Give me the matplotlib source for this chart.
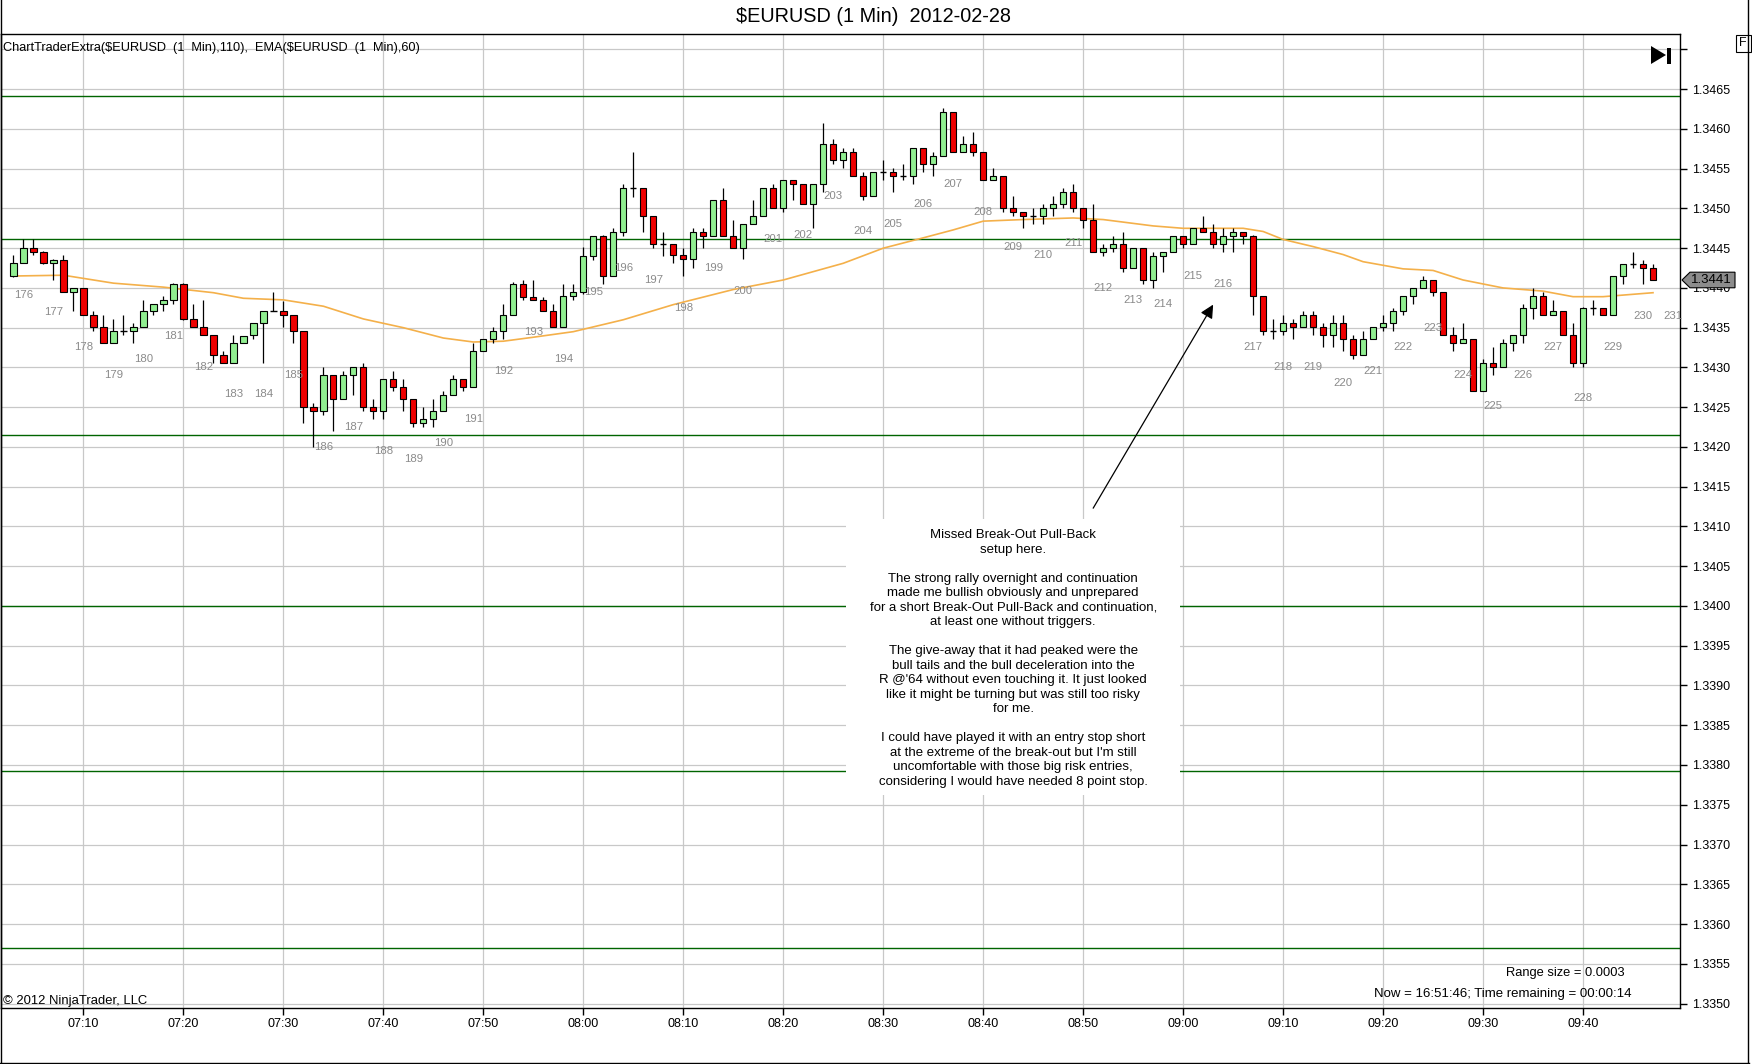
import matplotlib
matplotlib.use("Agg")
import matplotlib.pyplot as plt
import numpy as np
from matplotlib.patches import Rectangle, Polygon
from matplotlib.lines import Line2D
from matplotlib.transforms import Affine2D, blended_transform_factory

plt.rcParams["font.family"] = ["Liberation Sans", "DejaVu Sans"]

W, H = 1752, 1064

# ---- 1 min bars, 07:03 .. 09:47 ----
opens = [
    1.34415, 1.34431, 1.34450, 1.34445, 1.34431, 1.34435, 1.34395, 1.34400, 1.34366, 1.34351,
    1.34331, 1.34346, 1.34346, 1.34351, 1.34371, 1.34380, 1.34385, 1.34405, 1.34361, 1.34351,
    1.34341, 1.34316, 1.34306, 1.34331, 1.34341, 1.34356, 1.34371, 1.34371, 1.34366, 1.34346,
    1.34250, 1.34245, 1.34290, 1.34260, 1.34290, 1.34301, 1.34250, 1.34245, 1.34286, 1.34275,
    1.34260, 1.34230, 1.34235, 1.34245, 1.34265, 1.34286, 1.34275, 1.34321, 1.34336, 1.34346,
    1.34366, 1.34405, 1.34389, 1.34385, 1.34371, 1.34351, 1.34390, 1.34395, 1.34440, 1.34465,
    1.34415, 1.34470, 1.34526, 1.34526, 1.34490, 1.34455, 1.34455, 1.34441, 1.34436, 1.34470,
    1.34465, 1.34511, 1.34465, 1.34450, 1.34481, 1.34491, 1.34526, 1.34501, 1.34536, 1.34531,
    1.34506, 1.34531, 1.34581, 1.34561, 1.34571, 1.34541, 1.34516, 1.34546, 1.34546, 1.34541,
    1.34541, 1.34576, 1.34556, 1.34566, 1.34621, 1.34571, 1.34581, 1.34571, 1.34536, 1.34541,
    1.34501, 1.34496, 1.34491, 1.34491, 1.34501, 1.34506, 1.34521, 1.34501, 1.34486, 1.34445,
    1.34450, 1.34455, 1.34425, 1.34450, 1.34410, 1.34440, 1.34445, 1.34465, 1.34455, 1.34475,
    1.34470, 1.34455, 1.34465, 1.34470, 1.34465, 1.34390, 1.34346, 1.34346, 1.34356, 1.34351,
    1.34366, 1.34351, 1.34341, 1.34356, 1.34336, 1.34316, 1.34336, 1.34351, 1.34356, 1.34371,
    1.34390, 1.34400, 1.34410, 1.34395, 1.34341, 1.34331, 1.34336, 1.34270, 1.34306, 1.34301,
    1.34331, 1.34341, 1.34375, 1.34390, 1.34366, 1.34371, 1.34341, 1.34306, 1.34375, 1.34375,
    1.34366, 1.34415, 1.34430, 1.34430, 1.34425,
]
highs = [
    1.34441, 1.34461, 1.34461, 1.34446, 1.34436, 1.34441, 1.34400, 1.34400, 1.34371, 1.34366,
    1.34361, 1.34366, 1.34356, 1.34385, 1.34380, 1.34390, 1.34406, 1.34406, 1.34380, 1.34385,
    1.34341, 1.34321, 1.34341, 1.34340, 1.34356, 1.34371, 1.34395, 1.34384, 1.34366, 1.34346,
    1.34255, 1.34301, 1.34290, 1.34296, 1.34301, 1.34306, 1.34260, 1.34286, 1.34296, 1.34286,
    1.34260, 1.34250, 1.34260, 1.34270, 1.34290, 1.34286, 1.34331, 1.34336, 1.34351, 1.34380,
    1.34408, 1.34410, 1.34410, 1.34389, 1.34380, 1.34405, 1.34405, 1.34451, 1.34465, 1.34466,
    1.34475, 1.34531, 1.34571, 1.34526, 1.34490, 1.34470, 1.34455, 1.34450, 1.34475, 1.34475,
    1.34511, 1.34526, 1.34486, 1.34481, 1.34511, 1.34526, 1.34531, 1.34536, 1.34536, 1.34531,
    1.34531, 1.34607, 1.34587, 1.34576, 1.34576, 1.34546, 1.34546, 1.34561, 1.34551, 1.34556,
    1.34576, 1.34576, 1.34571, 1.34626, 1.34621, 1.34591, 1.34596, 1.34571, 1.34551, 1.34541,
    1.34516, 1.34496, 1.34501, 1.34506, 1.34516, 1.34526, 1.34531, 1.34501, 1.34506, 1.34455,
    1.34465, 1.34470, 1.34450, 1.34450, 1.34445, 1.34445, 1.34465, 1.34465, 1.34475, 1.34491,
    1.34481, 1.34475, 1.34475, 1.34470, 1.34466, 1.34390, 1.34361, 1.34366, 1.34361, 1.34371,
    1.34371, 1.34356, 1.34366, 1.34366, 1.34341, 1.34346, 1.34351, 1.34366, 1.34375, 1.34390,
    1.34400, 1.34415, 1.34410, 1.34395, 1.34351, 1.34356, 1.34336, 1.34311, 1.34326, 1.34336,
    1.34341, 1.34380, 1.34400, 1.34395, 1.34385, 1.34371, 1.34356, 1.34376, 1.34385, 1.34375,
    1.34415, 1.34430, 1.34445, 1.34435, 1.34430,
]
lows = [
    1.34414, 1.34431, 1.34441, 1.34430, 1.34410, 1.34395, 1.34371, 1.34366, 1.34346, 1.34331,
    1.34331, 1.34341, 1.34331, 1.34351, 1.34366, 1.34371, 1.34380, 1.34360, 1.34351, 1.34341,
    1.34306, 1.34306, 1.34306, 1.34331, 1.34336, 1.34306, 1.34371, 1.34351, 1.34331, 1.34230,
    1.34200, 1.34240, 1.34220, 1.34260, 1.34265, 1.34245, 1.34235, 1.34235, 1.34270, 1.34245,
    1.34225, 1.34225, 1.34225, 1.34245, 1.34265, 1.34270, 1.34275, 1.34321, 1.34331, 1.34336,
    1.34366, 1.34385, 1.34385, 1.34371, 1.34351, 1.34351, 1.34385, 1.34393, 1.34435, 1.34405,
    1.34415, 1.34465, 1.34515, 1.34470, 1.34450, 1.34440, 1.34431, 1.34415, 1.34425, 1.34450,
    1.34465, 1.34465, 1.34450, 1.34436, 1.34481, 1.34491, 1.34501, 1.34496, 1.34511, 1.34506,
    1.34475, 1.34521, 1.34556, 1.34551, 1.34541, 1.34511, 1.34516, 1.34536, 1.34521, 1.34536,
    1.34531, 1.34546, 1.34541, 1.34566, 1.34571, 1.34571, 1.34566, 1.34536, 1.34536, 1.34496,
    1.34491, 1.34475, 1.34481, 1.34481, 1.34491, 1.34501, 1.34496, 1.34475, 1.34445, 1.34440,
    1.34445, 1.34420, 1.34425, 1.34405, 1.34400, 1.34420, 1.34445, 1.34450, 1.34455, 1.34470,
    1.34450, 1.34445, 1.34445, 1.34455, 1.34366, 1.34341, 1.34336, 1.34341, 1.34336, 1.34351,
    1.34341, 1.34326, 1.34326, 1.34321, 1.34311, 1.34316, 1.34336, 1.34346, 1.34346, 1.34366,
    1.34380, 1.34400, 1.34390, 1.34341, 1.34321, 1.34331, 1.34270, 1.34270, 1.34291, 1.34301,
    1.34321, 1.34331, 1.34361, 1.34366, 1.34366, 1.34341, 1.34301, 1.34301, 1.34366, 1.34366,
    1.34366, 1.34405, 1.34425, 1.34405, 1.34410,
]
closes = [
    1.34431, 1.34450, 1.34445, 1.34431, 1.34435, 1.34395, 1.34400, 1.34366, 1.34351, 1.34331,
    1.34346, 1.34346, 1.34351, 1.34371, 1.34380, 1.34385, 1.34405, 1.34361, 1.34351, 1.34341,
    1.34316, 1.34306, 1.34331, 1.34340, 1.34356, 1.34371, 1.34371, 1.34366, 1.34346, 1.34250,
    1.34245, 1.34290, 1.34260, 1.34290, 1.34301, 1.34250, 1.34245, 1.34286, 1.34275, 1.34260,
    1.34230, 1.34235, 1.34245, 1.34265, 1.34286, 1.34275, 1.34321, 1.34336, 1.34346, 1.34366,
    1.34405, 1.34389, 1.34385, 1.34371, 1.34351, 1.34390, 1.34395, 1.34440, 1.34465, 1.34415,
    1.34470, 1.34526, 1.34526, 1.34490, 1.34455, 1.34455, 1.34441, 1.34436, 1.34470, 1.34465,
    1.34511, 1.34465, 1.34450, 1.34481, 1.34491, 1.34526, 1.34501, 1.34536, 1.34531, 1.34506,
    1.34531, 1.34581, 1.34561, 1.34571, 1.34541, 1.34516, 1.34546, 1.34546, 1.34541, 1.34541,
    1.34576, 1.34556, 1.34566, 1.34621, 1.34571, 1.34581, 1.34571, 1.34536, 1.34541, 1.34501,
    1.34496, 1.34491, 1.34491, 1.34501, 1.34506, 1.34521, 1.34501, 1.34486, 1.34445, 1.34450,
    1.34455, 1.34425, 1.34450, 1.34410, 1.34440, 1.34445, 1.34465, 1.34455, 1.34475, 1.34470,
    1.34455, 1.34465, 1.34470, 1.34465, 1.34390, 1.34346, 1.34346, 1.34356, 1.34351, 1.34366,
    1.34351, 1.34341, 1.34356, 1.34336, 1.34316, 1.34336, 1.34351, 1.34356, 1.34371, 1.34390,
    1.34400, 1.34410, 1.34395, 1.34341, 1.34331, 1.34336, 1.34270, 1.34306, 1.34301, 1.34331,
    1.34341, 1.34375, 1.34390, 1.34366, 1.34371, 1.34341, 1.34306, 1.34375, 1.34375, 1.34366,
    1.34415, 1.34430, 1.34430, 1.34425, 1.34410,
]

# EMA(60) at a few bars
ema_bars = [1, 6, 11, 16, 21, 24, 28, 32, 36, 40, 44, 47, 50, 53, 57, 62, 67, 73, 78, 84,
            88, 92, 95, 98, 102, 107, 110, 115, 118, 124, 126, 128, 131, 134, 136, 140,
            143, 146, 150, 154, 157, 160, 165]
ema_vals = [1.34415, 1.34416, 1.34406, 1.34401, 1.34394, 1.34387, 1.34385, 1.34377, 1.34361,
            1.34350, 1.34337, 1.34332, 1.34333, 1.34338, 1.34345, 1.34360, 1.34379, 1.34398,
            1.34410, 1.34431, 1.34450, 1.34463, 1.34473, 1.34484, 1.34486, 1.34488, 1.34486,
            1.34478, 1.34475, 1.34475, 1.34471, 1.34461, 1.34452, 1.34442, 1.34433, 1.34424,
            1.34422, 1.34410, 1.34400, 1.34396, 1.34389, 1.34389, 1.34394]

# horizontal S/R lines (dark green)
levels = [1.34642, 1.34461, 1.34215, 1.34000, 1.33792, 1.33570]

tick_bars = [8, 18, 28, 38, 48, 58, 68, 78, 88, 98, 108, 118, 128, 138, 148, 158]
tick_labels = ["07:10", "07:20", "07:30", "07:40", "07:50", "08:00", "08:10", "08:20",
               "08:30", "08:40", "08:50", "09:00", "09:10", "09:20", "09:30", "09:40"]
first_label = 176
last_label = 231

note_lines = [
    "Missed Break-Out Pull-Back",
    "setup here.",
    "",
    "The strong rally overnight and continuation",
    "made me bullish obviously and unprepared",
    "for a short Break-Out Pull-Back and continuation,",
    "at least one without triggers.",
    "",
    "The give-away that it had peaked were the",
    "bull tails and the bull deceleration into the",
    "R @'64 without even touching it. It just looked",
    "like it might be turning but was still too risky",
    "for me.",
    "",
    "I could have played it with an entry stop short",
    "at the extreme of the break-out but I'm still",
    "uncomfortable with those big risk entries,",
    "considering I would have needed 8 point stop.",
]

GREEN = "#90ee90"
RED = "#ee0000"
GRID = "#c8c8c8"

fig = plt.figure(figsize=(W / 100, H / 100), dpi=100)
ax = fig.add_axes([0.5 / W, (H - 1008.3) / H, 1680 / W, (1008.3 - 34.3) / H])
px = Affine2D().scale(1, -1).translate(0, H)   # pixel coords, y down

o = np.array(opens)
c = np.array(closes)
hi = np.array(highs)
lo = np.array(lows)
x = np.arange(1, len(o) + 1)
bw = 0.62

ax.vlines(x, lo, hi, color="black", lw=0.9, zorder=3)
up = c > o
dn = c < o
dj = c == o
ax.bar(x[up], (c - o)[up], bottom=o[up], width=bw, color=GREEN,
       edgecolor="black", linewidth=0.8, zorder=4)
ax.bar(x[dn], (o - c)[dn], bottom=c[dn], width=bw, color=RED,
       edgecolor="black", linewidth=0.8, zorder=4)
ax.hlines(o[dj], x[dj] - bw / 2, x[dj] + bw / 2, color="black", lw=1.0, zorder=4)

ax.plot(ema_bars, ema_vals, color="#f4b04a", lw=1.2, zorder=2)

for lv in levels:
    ax.axhline(lv, color="#006400", lw=1.0, zorder=1)

# bar counter labels every 3rd bar
for k in range(first_label, last_label + 1):
    b = 2 + 3 * (k - first_label)
    base = lows[b - 1] if b <= len(lows) else min(lows[-3:])
    ax.text(b, base - 0.0004, str(k), color="#8a8a8a", fontsize=8.2,
            ha="center", va="center", zorder=5, clip_on=False)

ax.set_xlim(-0.3, 167.75)
ax.set_ylim(1.33494, 1.34719)
ax.set_xticks(tick_bars)
ax.set_xticklabels(tick_labels)
yt = np.round(np.arange(1.3350, 1.34701, 0.0005), 4)
ax.set_yticks(yt)
ax.set_yticklabels(["%.4f" % v if v < 1.34699 else "" for v in yt])
ax.yaxis.tick_right()
ax.tick_params(axis="both", direction="out", length=5, width=1, labelsize=9,
               colors="black")
ax.tick_params(axis="x", pad=2)
ax.tick_params(axis="y", pad=3)
ax.grid(True, color=GRID, lw=0.9, zorder=0)
ax.set_axisbelow(True)
for s in ax.spines.values():
    s.set_color("black")
    s.set_linewidth(1.0)

# note box with text and arrow
ax.add_patch(Rectangle((84.3, 1.33762), 33.4, 0.00348, facecolor="white",
                       edgecolor="none", zorder=5))
ax.text(101.0, 1.33934, "\n".join(note_lines), ha="center", va="center",
        fontsize=9.5, linespacing=1.28, zorder=6, parse_math=False)
ax.annotate("", xy=(121.0, 1.34379), xytext=(109.0, 1.34123),
            arrowprops=dict(arrowstyle="-|>", color="black", lw=0.9,
                            mutation_scale=20, shrinkA=0, shrinkB=0), zorder=6)

# last price tag
tr = blended_transform_factory(px, ax.transData)
lc = closes[-1]
tag = Polygon([(1682, lc), (1690, lc + 0.000098), (1735, lc + 0.000098),
               (1735, lc - 0.000098), (1690, lc - 0.000098)], closed=True,
              facecolor="#8c8c8c", edgecolor="black", lw=0.8, transform=tr,
              clip_on=False, zorder=10)
ax.add_patch(tag)
ax.text(1711, lc, "%.4f" % lc, transform=tr, ha="center", va="center", fontsize=9.5,
        color="black", clip_on=False, zorder=11)

# header and footer texts
fig.text(874 / W, 1 - 17 / H, "$EURUSD (1 Min)  2012-02-28", ha="center", va="center",
         fontsize=14.3, parse_math=False)
fig.text(3 / W, 1 - 47.7 / H,
         "ChartTraderExtra($EURUSD  (1  Min),110),  EMA($EURUSD  (1  Min),60)",
         ha="left", va="center", fontsize=9.2, parse_math=False)
fig.text(3 / W, 1 - 1000.7 / H, "\u00a9 2012 NinjaTrader, LLC", ha="left", va="center",
         fontsize=9.4)
fig.text(1625 / W, 1 - 973.3 / H, "Range size = 0.0003", ha="right", va="center",
         fontsize=9.3)
fig.text(1632 / W, 1 - 994 / H, "Now = 16:51:46; Time remaining = 00:00:14",
         ha="right", va="center", fontsize=9.5)

# window decorations
fig.add_artist(Polygon([(1651, 46), (1651, 64), (1666, 55)], closed=True,
                       facecolor="black", edgecolor="none", transform=px))
fig.add_artist(Rectangle((1667.3, 48.3), 3.4, 15.7, facecolor="black",
                         edgecolor="none", transform=px))
fig.add_artist(Rectangle((1736, 35), 14.5, 17, facecolor="white", edgecolor="black",
                         lw=0.8, transform=px))
fig.text(1743.3 / W, 1 - 43.5 / H, "F", ha="center", va="center", fontsize=9)
for xs, ys in [([0.5, 0.5], [0, 1063.5]), ([0, 1748.5], [1063.3, 1063.3]),
               ([1748.3, 1748.3], [0, 1063.5])]:
    fig.add_artist(Line2D(xs, ys, color="black", lw=1.0, transform=px))

fig.savefig("out.png", dpi=100)
